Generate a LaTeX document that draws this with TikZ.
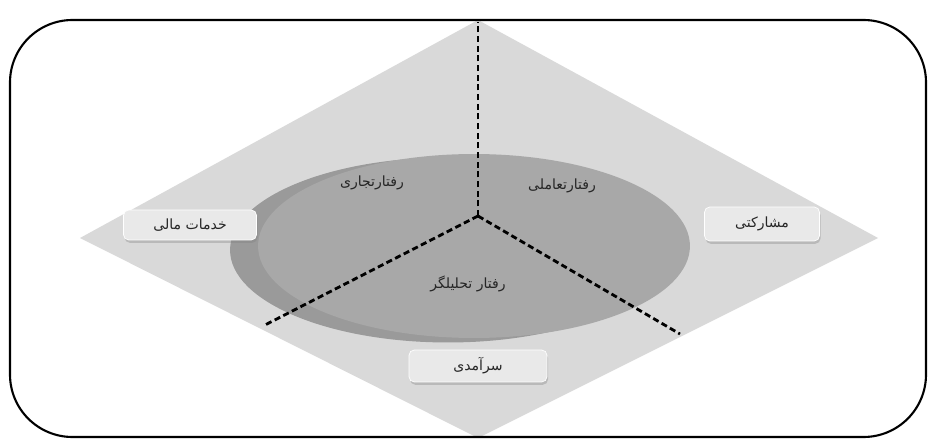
\documentclass[tikz,border=0pt]{standalone}
\usepackage{fontspec}
\usepackage{tikz}
\usetikzlibrary{shadows}
\TeXXeTstate=1
\newfontfamily\arabicfont[Script=Arabic]{DejaVu Sans}
\definecolor{diamondgray}{RGB}{217,217,217}
\definecolor{ovalgray}{RGB}{168,168,168}
\definecolor{rimgray}{RGB}{154,154,154}
\definecolor{boxgray}{RGB}{233,233,233}

\begin{document}
\begin{tikzpicture}[
    x=0.02cm, y=-0.02cm,
    tag/.style={draw=white, fill=boxgray, rounded corners=3pt, inner sep=0pt,
        drop shadow={opacity=0.35, shadow xshift=0.6pt, shadow yshift=-1.6pt},
        text=black!85, font=\arabicfont\fontsize{8}{9}\selectfont},
    part/.style={text=black!85, font=\arabicfont\fontsize{8}{9}\selectfont},
    divider/.style={line width=1.6pt, dash pattern=on 3.5pt off 2pt}
]
    \useasboundingbox (0,0) rectangle (931,439);

    % Background
    \fill[diamondgray] (478,20) -- (878,238) -- (478,438) -- (80,238) -- cycle;
    \fill[rimgray] (448,250) ellipse (4.36cm and 1.85cm);
    \fill[ovalgray] (474,246) ellipse (4.32cm and 1.84cm);

    % Frame
    \draw[line width=1.2pt, rounded corners=1.25cm] (10,20) rectangle (926,437);

    % Lines
    \coordinate (ctr) at (478,216);
    \coordinate (up) at (478,22);
    \coordinate (lowleft) at (263,326);
    \coordinate (lowright) at (680,334);
    \draw[divider] (ctr) -- (up);
    \draw[divider] (ctr) -- (lowleft);
    \draw[divider] (ctr) -- (lowright);

    % Nodes
    \node[part] (trade) at (372,183) {\beginR رفتارتجاری\endR};
    \node[part] (interact) at (562,186) {\beginR رفتارتعاملی\endR};
    \node[part] (analyst) at (468,284) {\beginR رفتار تحلیلگر\endR};

    \node[tag, minimum width=2.66cm, minimum height=0.6cm] (finance) at (190,225) {\beginR خدمات مالی\endR};
    \node[tag, minimum width=2.3cm, minimum height=0.68cm] (partner) at (762,224) {\beginR مشارکتی\endR};
    \node[tag, minimum width=2.76cm, minimum height=0.64cm] (excel) at (478,366) {\beginR سرآمدی\endR};
\end{tikzpicture}
\end{document}
